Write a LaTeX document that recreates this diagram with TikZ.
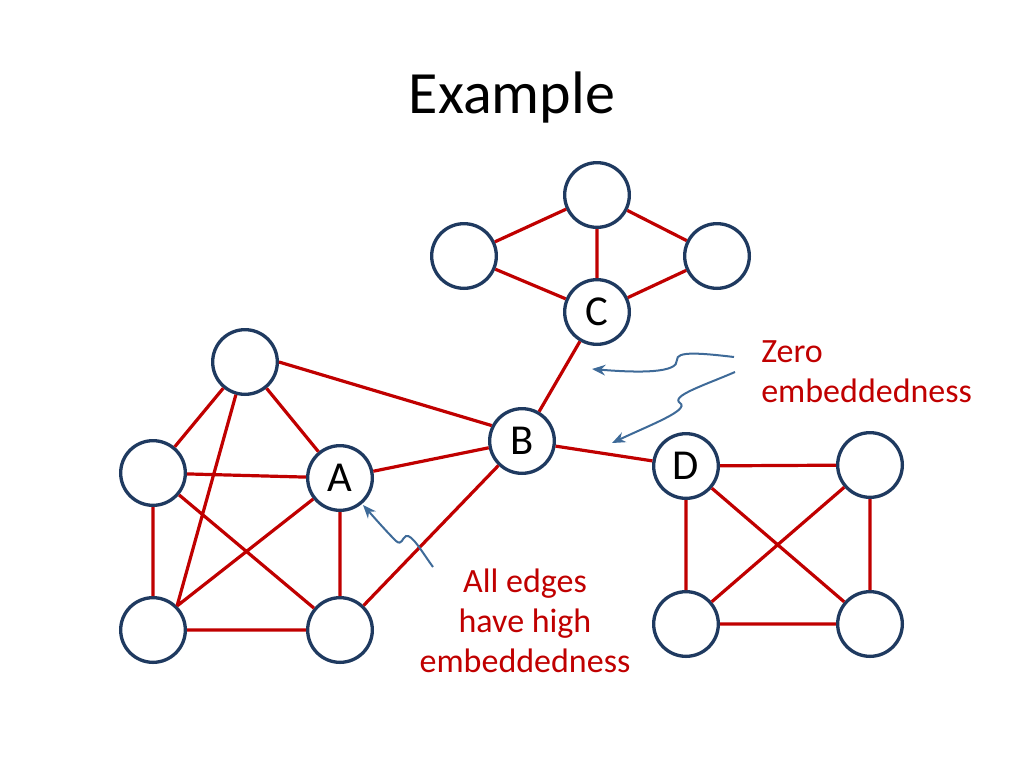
\documentclass[tikz,border=0pt]{standalone}
\usepackage{fontspec}
\setmainfont{Carlito}
\usetikzlibrary{arrows.meta}
\definecolor{nodeblue}{HTML}{1F3A60}
\definecolor{edgered}{HTML}{C00000}
\definecolor{arrowblue}{HTML}{3E6A98}
\begin{document}
\begin{tikzpicture}[x=0.75pt,y=-0.75pt,
  vertex/.style={circle,draw=nodeblue,line width=2.5pt,fill=white,minimum size=48.5pt,inner sep=0pt,font=\fontsize{32}{38}\selectfont},
  edge/.style={edgered,line width=2.4pt},
  pointer/.style={arrowblue,line width=1.5pt,-{Stealth[length=10pt,width=8pt]}},
  note/.style={text=edgered,font=\fontsize{25.5}{30}\selectfont,inner sep=0pt}]
\useasboundingbox (0,0) rectangle (1024,768);
\node[font=\fontsize{45}{54}\selectfont] (title) at (512,97) {Example};
% top cluster
\node[vertex] (t1) at (597,195) {};
\node[vertex] (t2) at (464,256) {};
\node[vertex] (t3) at (717,256) {};
\node[vertex] (C) at (597,312) {C};
% left cluster
\node[vertex] (l1) at (245,362) {};
\node[vertex] (l2) at (153,473) {};
\node[vertex] (A) at (340,478) {A};
\node[vertex] (l3) at (153,630) {};
\node[vertex] (l4) at (340,630) {};
% hub
\node[vertex] (B) at (522,441) {B};
% right cluster
\node[vertex] (D) at (686,466) {D};
\node[vertex] (r1) at (870,465) {};
\node[vertex] (r2) at (686,624) {};
\node[vertex] (r3) at (870,624) {};
% edges
\draw[edge] (t1)--(t2) (t1)--(t3) (t1)--(C) (t2)--(C) (t3)--(C) (C)--(B);
\draw[edge] (l1)--(l2) (l1)--(A) (l1)--(l3.45) (l1.east)--(B.153) (l2)--(A) (l2)--(l3) (l2)--(l4)
  (A)--(l3.45) (A)--(l4) (A)--(B) (l3)--(l4) (l4)--(B);
\draw[edge] (B)--(D) (D)--(r1) (D)--(r2) (D)--(r3) (r1)--(r2) (r1)--(r3) (r2)--(r3);
% notes
\node[note,anchor=west,align=left] (zero) at (761,372) {Zero\\embeddedness};
\node[note,align=center] (high) at (525,621) {All edges\\have high\\embeddedness};
% pointers
\coordinate (s1) at (734,357); \coordinate (e1) at (592,369);
\coordinate (s2) at (735,372); \coordinate (e2) at (612,443);
\coordinate (s3) at (433,567); \coordinate (e3) at (363,505);
\draw[pointer] (s1) .. controls (700,353) and (676,351) .. (677,360)
  .. controls (678,373) and (640,373) .. (e1);
\draw[pointer] (s2) .. controls (705,385) and (670,396) .. (680,403)
  .. controls (690,410) and (650,425) .. (e2);
\draw[pointer] (s3) .. controls (422,552) and (412,534) .. (406,536)
  .. controls (402,538) and (402,546) .. (396,541)
  .. controls (385,530) and (372,515) .. (e3);
\end{tikzpicture}
\end{document}
